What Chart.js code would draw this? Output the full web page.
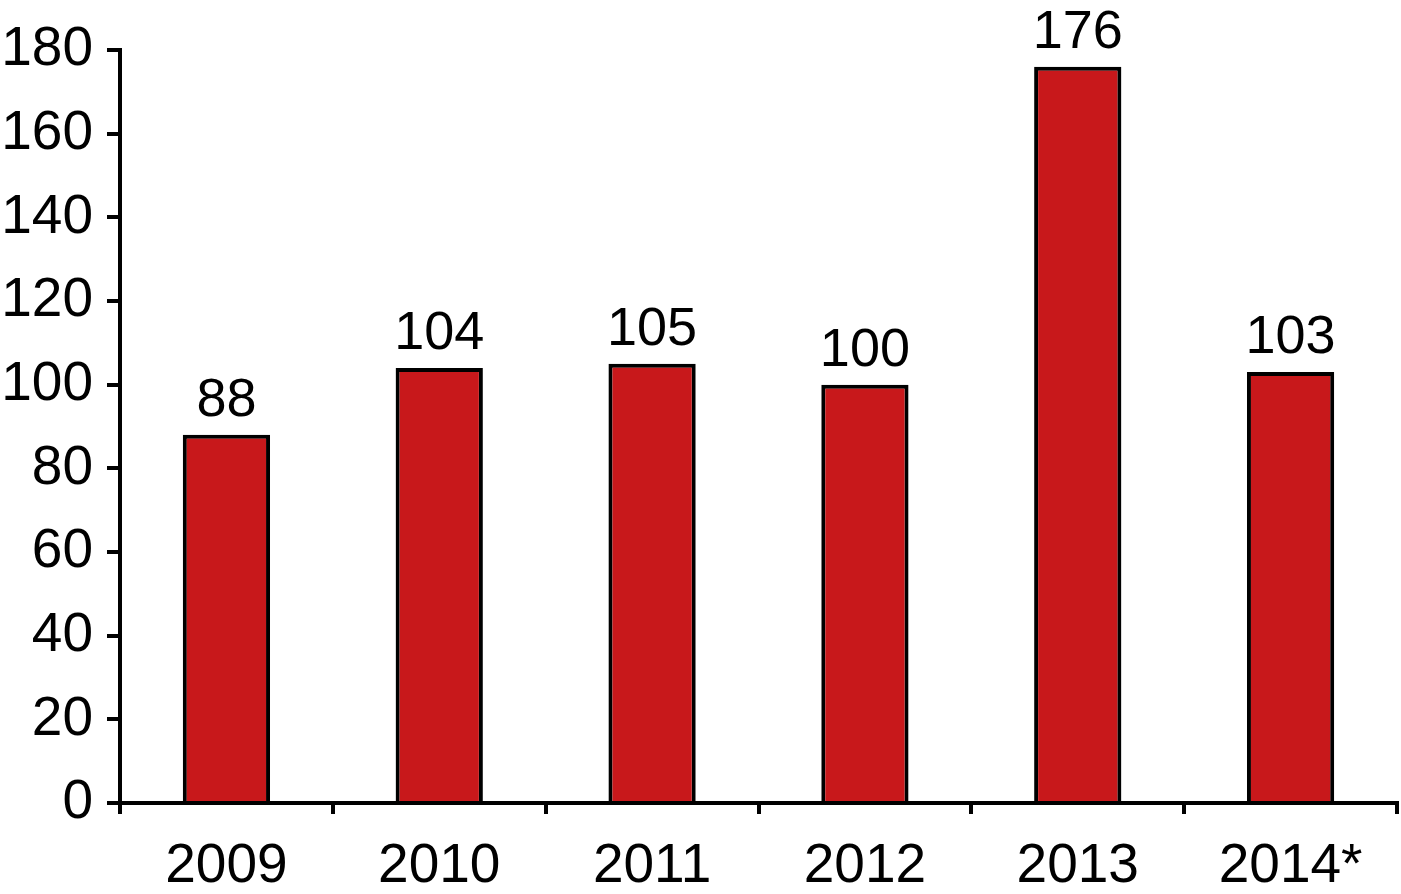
<!DOCTYPE html>
<html>
<head>
<meta charset="utf-8">
<script src="https://cdn.jsdelivr.net/npm/chart.js@4"></script>
<style>
  html, body { margin: 0; padding: 0; background: #fff; }
  #wrap { width: 1401px; height: 894px; position: relative; }
</style>
</head>
<body>
<div id="wrap"><canvas id="chart"></canvas></div>
<script>
// data
const years = ["2009", "2010", "2011", "2012", "2013", "2014*"];
const counts = [88, 104, 105, 100, 176, 103];
const yTicks = [0, 20, 40, 60, 80, 100, 120, 140, 160, 180];

const FONT = "'Liberation Sans', Arial, Helvetica, sans-serif";

// value labels above each bar
const barLabels = {
  id: "barLabels",
  afterDatasetsDraw(chart) {
    const ctx = chart.ctx;
    const meta = chart.getDatasetMeta(0);
    ctx.save();
    ctx.font = "54px " + FONT;
    ctx.fillStyle = "#000";
    ctx.textAlign = "center";
    ctx.textBaseline = "alphabetic";
    meta.data.forEach((bar, i) => {
      ctx.fillText(String(counts[i]), bar.x, bar.y - 19);
    });
    ctx.restore();
  },
};

new Chart(document.getElementById("chart"), {
  type: "bar",
  data: {
    labels: years,
    datasets: [{
      data: counts,
      backgroundColor: "#c8181b",
      borderColor: "#000",
      borderWidth: 4,
      borderSkipped: "bottom",
      categoryPercentage: 1,
      barPercentage: 0.41,
    }],
  },
  options: {
    responsive: true,
    maintainAspectRatio: false,
    animation: false,
    layout: { padding: { top: 50, right: 4, left: 0, bottom: 0 } },
    plugins: {
      legend: { display: false },
      tooltip: { enabled: false },
    },
    scales: {
      x: {
        offset: true,
        grid: {
          offset: true,
          drawOnChartArea: false,
          color: "#000",
          lineWidth: 4,
          tickLength: 11,
        },
        border: { color: "#000", width: 4 },
        ticks: {
          color: "#000",
          font: { family: FONT, size: 55 },
          padding: 20,
          maxRotation: 0,
        },
        afterFit(scale) { scale.height = 91; },
      },
      y: {
        min: 0,
        max: 180,
        afterBuildTicks(scale) { scale.ticks = yTicks.map(v => ({ value: v })); },
        grid: {
          drawOnChartArea: false,
          color: "#000",
          lineWidth: 4,
          tickLength: 13,
        },
        border: { color: "#000", width: 4 },
        ticks: {
          color: "#000",
          font: { family: FONT, size: 55 },
          padding: 14,
        },
        afterFit(scale) { scale.width = 120; },
      },
    },
  },
  plugins: [barLabels],
});
</script>
</body>
</html>
